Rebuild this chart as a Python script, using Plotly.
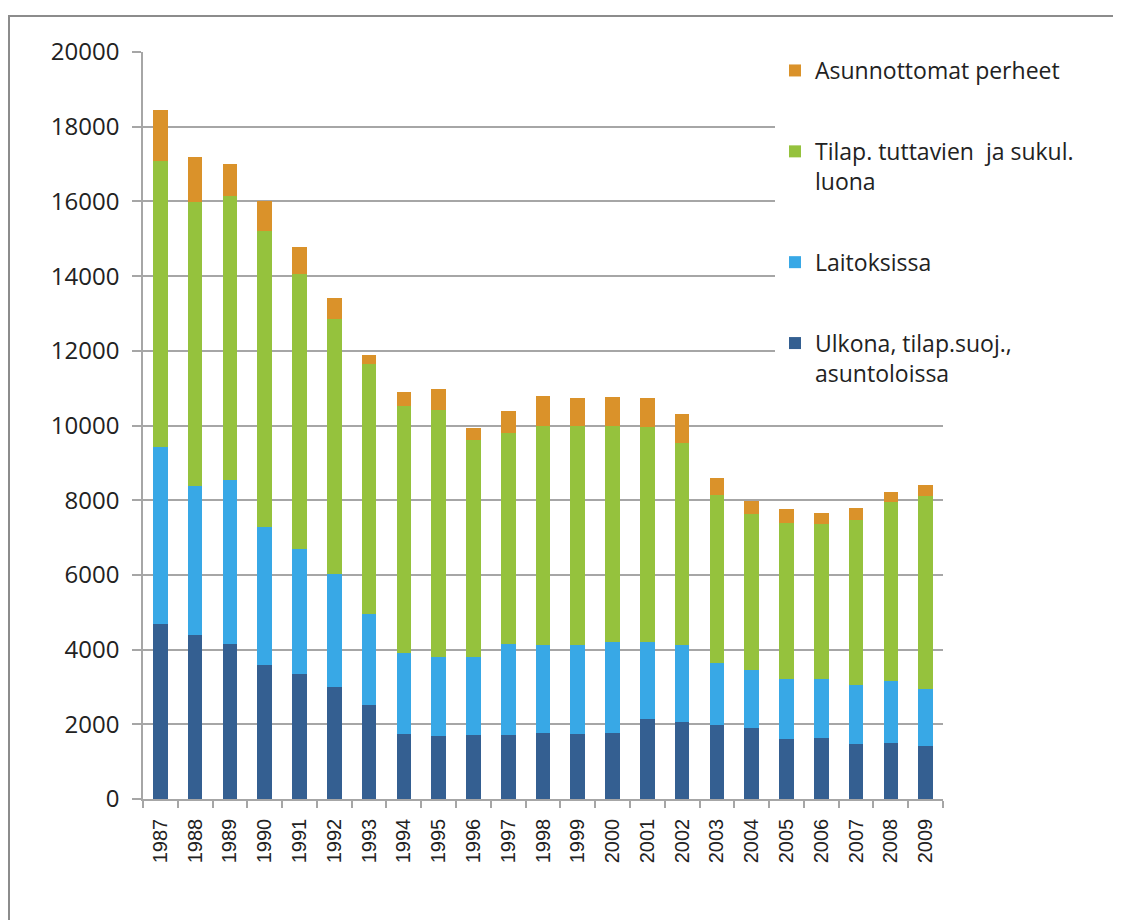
import plotly.graph_objects as go

years = [str(y) for y in range(1987, 2010)]

ulkona = [4690, 4380, 4140, 3600, 3350, 3000, 2530, 1740, 1700, 1705, 1705, 1780, 1740,
          1780, 2150, 2050, 1980, 1910, 1610, 1640, 1460, 1500, 1430]
laitoksissa = [4740, 3990, 4400, 3670, 3340, 3030, 2430, 2170, 2100, 2095, 2445, 2330, 2370,
               2430, 2060, 2060, 1650, 1550, 1590, 1580, 1590, 1650, 1520]
tuttavat = [7650, 7620, 7600, 7950, 7370, 6830, 6700, 6620, 6620, 5810, 5660, 5880, 5880,
            5780, 5740, 5430, 4510, 4160, 4180, 4130, 4430, 4790, 5160]
perheet = [1370, 1200, 870, 780, 730, 560, 240, 370, 555, 330, 580, 810, 740,
           780, 780, 780, 450, 360, 390, 310, 320, 270, 300]

series = [
    ("Ulkona, tilap.suoj.,<br>asuntoloissa", ulkona, "#345F91"),
    ("Laitoksissa", laitoksissa, "#38A8E6"),
    ("Tilap. tuttavien  ja sukul.<br>luona", tuttavat, "#95C23D"),
    ("Asunnottomat perheet", perheet, "#DA922A"),
]

fig = go.Figure()
n = len(series)
for i, (name, vals, col) in enumerate(series):
    fig.add_trace(go.Bar(x=years, y=vals, name=name, marker=dict(color=col, line=dict(width=0)),
                         legendgroup=f"g{i}", legendrank=n - i))

grid = "#A6A6A6"
fig.update_layout(
    width=1113, height=912,
    margin=dict(l=135, r=178, t=44, b=121),
    paper_bgcolor="white", plot_bgcolor="white",
    barmode="stack", bargap=0.58,
    showlegend=True,
    legend=dict(x=0.79, y=1.004, xanchor="left", yanchor="top", bgcolor="white",
                font=dict(family="Open Sans", size=23, color="#222222"),
                traceorder="grouped", tracegroupgap=48, valign="top"),
    xaxis=dict(type="category", showgrid=False, showline=True, linecolor=grid, linewidth=1.5,
               ticks="outside", tickson="boundaries", ticklen=7, tickcolor=grid, tickwidth=1.5,
               tickangle=-90, ticklabelstandoff=10,
               tickfont=dict(family="Liberation Sans", size=20, color="#222222")),
    yaxis=dict(range=[0, 20000], dtick=2000, tickformat="d", showgrid=True, gridcolor=grid, gridwidth=1.5,
               showline=True, linecolor=grid, linewidth=1.5, zeroline=False,
               ticks="outside", ticklen=9, tickcolor=grid, tickwidth=1.5,
               ticklabelstandoff=8,
               tickfont=dict(family="Open Sans", size=24, color="#222222")),
    shapes=[dict(type="rect", xref="paper", yref="paper",
                 x0=(1 - 135) / 800, x1=1.3, y0=-0.3, y1=(791 - 8) / 747,
                 line=dict(color="#8C8C8C", width=2), fillcolor="rgba(0,0,0,0)", layer="above")],
)

fig.write_html("out.html")
